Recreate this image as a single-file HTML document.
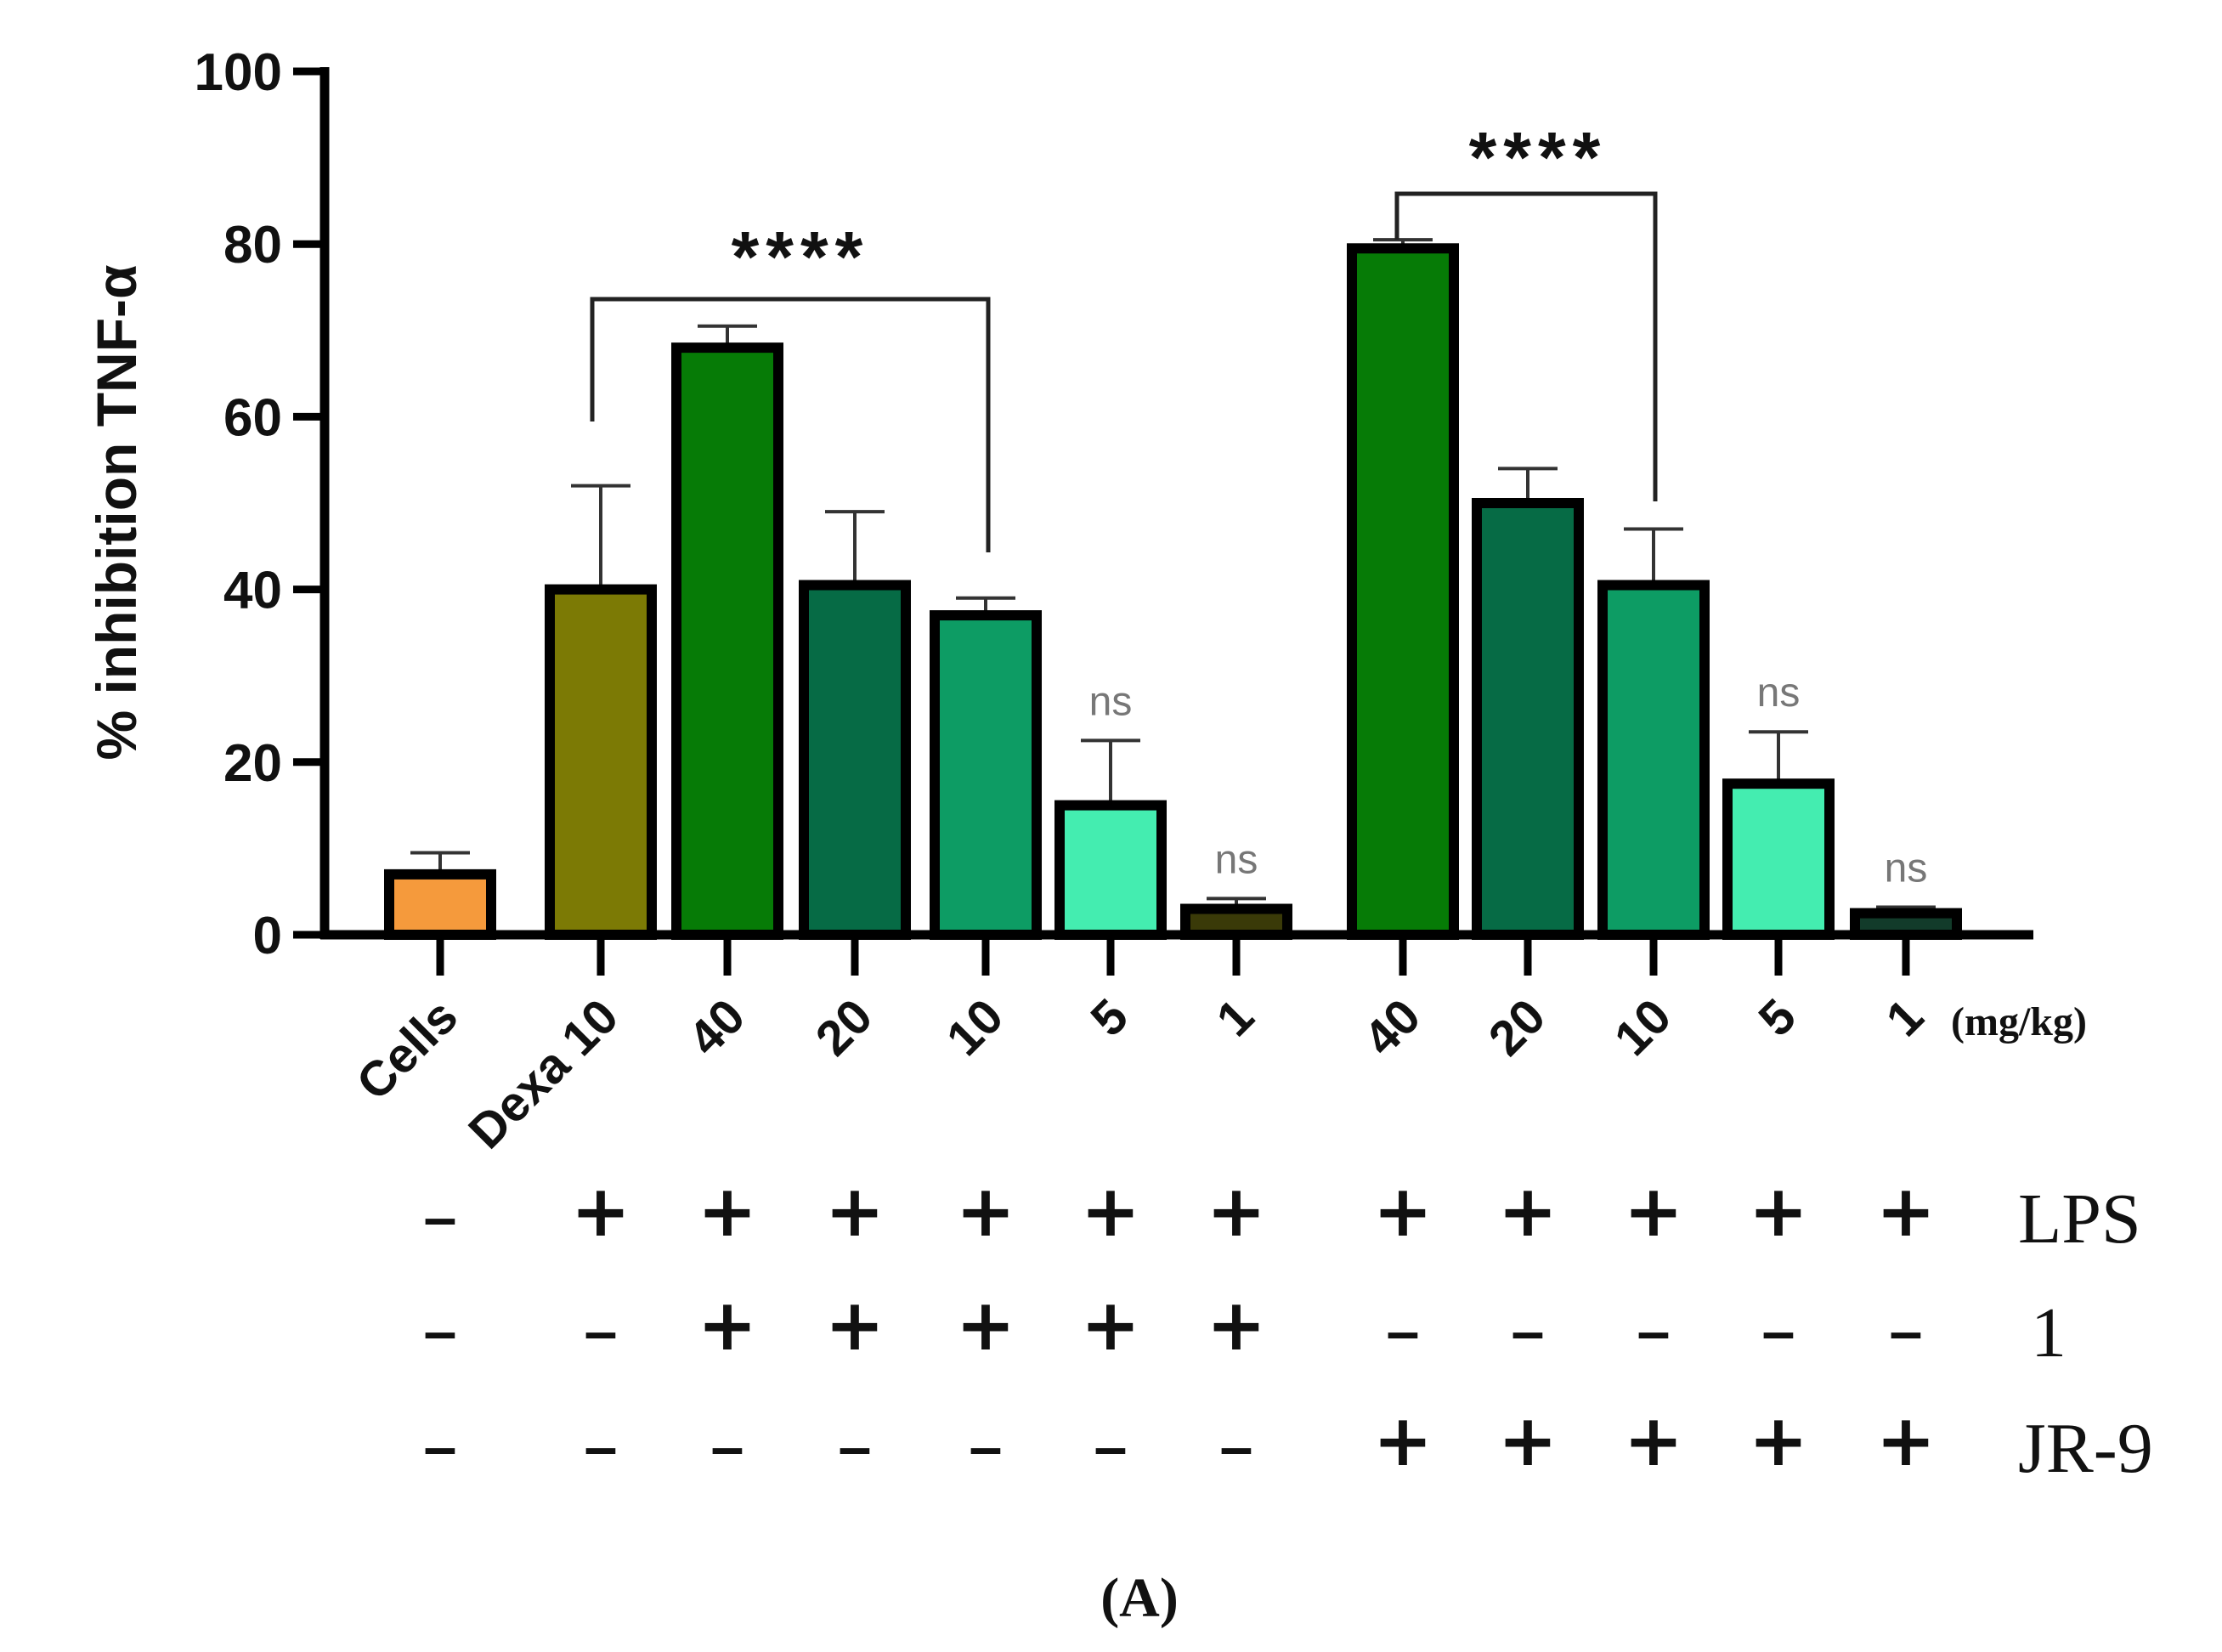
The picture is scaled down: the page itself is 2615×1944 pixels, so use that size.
<!DOCTYPE html>
<html><head><meta charset="utf-8"><style>
html,body{margin:0;padding:0;background:#fff}
svg{display:block}
</style></head><body>
<svg id="chart" width="2615" height="1944" viewBox="0 0 2615 1944" xmlns="http://www.w3.org/2000/svg">
<g id="g"></g>
</svg>
<script>
const categories=["Cells","Dexa 10","40","20","10","5","1","40","20","10","5","1"];
const values=[7,40,68,40.5,37,15,3,79.5,50,40.5,17.5,2.5];
const errTops=[9.5,52,70.5,49,39,22.5,4.2,80.5,54,47,23.5,3.2];
const yTicks=[0,20,40,60,80,100];
const lpsRow=["–","+","+","+","+","+","+","+","+","+","+","+"];
const cmpRow=["–","–","+","+","+","+","+","–","–","–","–","–"];
const jrRow=["–","–","–","–","–","–","–","+","+","+","+","+"];
const nsFlags=[0,0,0,0,0,1,1,0,0,0,1,1];
const colors=["#f59a3c","#7c7a05","#067b06","#066b45","#0d9c64","#44edb0","#3a3a08","#067b06","#066b45","#0d9c64","#44edb0","#123b2a"];
const centers=[518,707,856,1006,1160,1307,1455,1651,1798,1946,2093,2243];

const NS="http://www.w3.org/2000/svg";
const g=document.getElementById('g');
const y0=1100, pxPer=10.16;
const Y=v=>y0-v*pxPer;
function el(t,a,txt){const e=document.createElementNS(NS,t);for(const k in a)e.setAttribute(k,a[k]);if(txt!==undefined)e.textContent=txt;g.appendChild(e);return e;}

let e=el('line',{x1:382,y1:Y(100)-5,x2:382,y2:y0+5,stroke:'#000','stroke-width':11});


yTicks.forEach(t=>{
 let l=el('line',{x1:345,y1:Y(t),x2:382,y2:Y(t),stroke:'#000','stroke-width':9});
 
 
 let tx=el('text',{x:332,y:Y(t)+22,'text-anchor':'end','font-family':'Liberation Sans, sans-serif','font-weight':'bold','font-size':62,fill:'#111'},String(t));
 
 
});
let yt=el('text',{x:0,y:0,transform:'translate(160,603) rotate(-90)','text-anchor':'middle','font-family':'Liberation Sans, sans-serif','font-weight':'bold','font-size':66,fill:'#111'},'% inhibition TNF-α');



const bw=120;
categories.forEach((c,i)=>{
 const cx=centers[i];
 let eb=el('line',{x1:cx,y1:Y(errTops[i]),x2:cx,y2:Y(values[i]),stroke:'#333','stroke-width':4});
 
 
 let ec=el('line',{x1:cx-35,y1:Y(errTops[i]),x2:cx+35,y2:Y(errTops[i]),stroke:'#333','stroke-width':4});
 
 
 let r=el('rect',{x:cx-bw/2,y:Y(values[i]),width:bw,height:y0-Y(values[i]),fill:colors[i],stroke:'#000','stroke-width':12});
 
 
 let tk=el('line',{x1:cx,y1:y0,x2:cx,y2:y0+48,stroke:'#000','stroke-width':9});
 
 
 let lb=el('text',{x:0,y:0,transform:`translate(${cx+24},${y0+100}) rotate(-45)`,'text-anchor':'end','font-family':'Liberation Sans, sans-serif','font-weight':'bold','font-size':58,fill:'#111'},c);
 
 
 if(nsFlags[i]){
  let n=el('text',{x:cx,y:Y(errTops[i])-30,'text-anchor':'middle','font-family':'Liberation Sans, sans-serif','font-size':48,fill:'#777'},'ns');
  
  
 }
 [[lpsRow,1436],[cmpRow,1570],[jrRow,1706]].forEach(([row,yy])=>{
  const plus=row[i]==='+';
  let s=el('text',{x:cx,y:yy+(plus?18:20),'text-anchor':'middle','font-family':plus?'DejaVu Sans, sans-serif':'Liberation Sans, sans-serif','font-weight':'bold','font-size':plus?84:70,fill:'#111'},row[i]);
  
  
 });
});
e=el('text',{x:2296,y:1218,'font-family':'Liberation Serif, serif','font-weight':'bold','font-size':48,fill:'#111'},'(mg/kg)');


e=el('line',{x1:377,y1:y0,x2:2393,y2:y0,stroke:'#000','stroke-width':11});



function bracket(x1,x2,top,d1,d2,sx,sy,nm){
 let p=el('path',{d:`M${x1},${d1} V${top} H${x2} V${d2}`,fill:'none',stroke:'#222','stroke-width':5});
 
 
 let t=el('text',{x:sx,y:sy+38,'text-anchor':'middle','font-family':'Liberation Sans, sans-serif','font-weight':'bold','font-size':84,'letter-spacing':8,fill:'#111'},'****');
 
 
}
bracket(697,1163,352,496,650,942,293,'significance-bracket-1');
bracket(1644,1948,228,282,590,1810,176,'significance-bracket-2');

[['LPS',1436],['1',1570],['JR-9',1706]].forEach(([t,yy])=>{
 let s=el('text',{x:t==='1'?2390:2375,y:yy+26,'font-family':'Liberation Serif, serif','font-size':84,fill:'#111'},t);
 
 
});
e=el('text',{x:1341,y:1902,'text-anchor':'middle','font-family':'Liberation Serif, serif','font-weight':'bold','font-size':66,fill:'#111'},'(A)');


</script>
</body></html>
